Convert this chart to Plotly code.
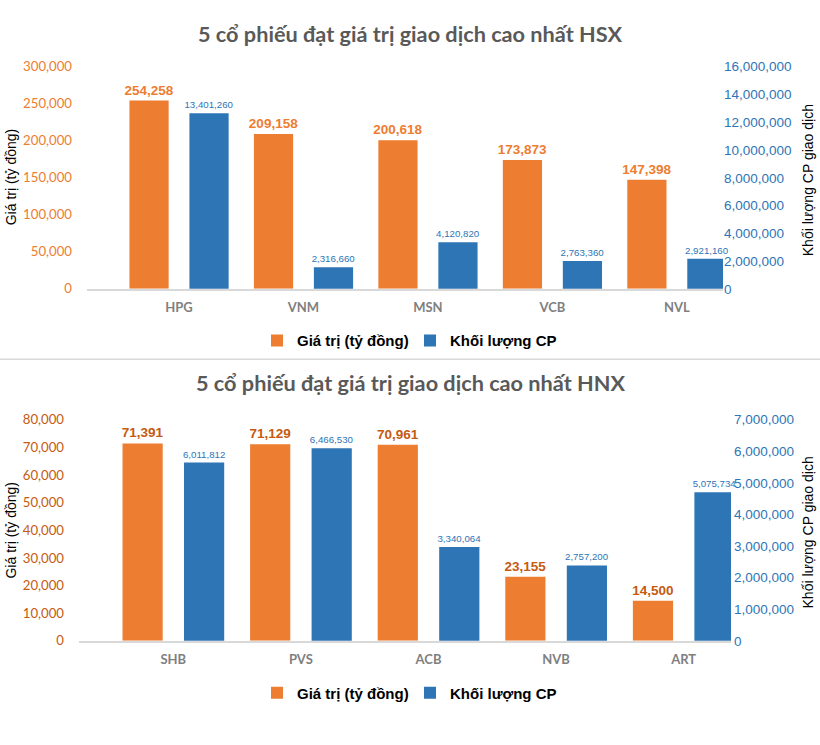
import plotly.graph_objects as go

# ---------------- data ----------------
categories_hsx = ["HPG", "VNM", "MSN", "VCB", "NVL"]
value_hsx = [254258, 209158, 200618, 173873, 147398]          # Giá trị (tỷ đồng)
volume_hsx = [13401260, 2316660, 4120820, 2763360, 2921160]   # Khối lượng CP

categories_hnx = ["SHB", "PVS", "ACB", "NVB", "ART"]
value_hnx = [71391, 71129, 70961, 23155, 14500]
volume_hnx = [6011812, 6466530, 3340064, 2757200, 5075734]

left_ticks_hsx = [0, 50000, 100000, 150000, 200000, 250000, 300000]
right_ticks_hsx = [0, 2000000, 4000000, 6000000, 8000000, 10000000, 12000000, 14000000, 16000000]
left_ticks_hnx = [0, 10000, 20000, 30000, 40000, 50000, 60000, 70000, 80000]
right_ticks_hnx = [0, 1000000, 2000000, 3000000, 4000000, 5000000, 6000000, 7000000]

title_hsx = "5 cổ phiếu đạt giá trị giao dịch cao nhất HSX"
title_hnx = "5 cổ phiếu đạt giá trị giao dịch cao nhất HNX"
name_value = "Giá trị (tỷ đồng)"
name_volume = "Khối lượng CP"
ytitle_left = "Giá trị (tỷ đồng)"
ytitle_right = "Khối lượng CP giao dịch"

# the reference's secondary axis baseline is not at zero (calibration of the picture)
base_hsx = 760000
base_hnx = 370000

# ---------------- style ----------------
W, H = 820, 745
ORANGE = "#ED7D31"
ORANGE_DARK = "#C55A11"
BLUE = "#2E75B6"
LABEL_FONT = "Liberation Sans"
BAR_W = 0.315
OFF_A = -0.398
OFF_B = 0.084

fig = go.Figure()

def add_pair(cats, vals, vols, xa, ya, yb, lab_col, legend):
    fig.add_trace(go.Bar(
        x=cats, y=vals, name=name_value, xaxis=xa, yaxis=ya,
        marker=dict(color=ORANGE, line=dict(width=0)),
        width=BAR_W, offset=OFF_A,
        texttemplate="%{y:,}", textposition="outside", cliponaxis=False,
        constraintext="none",
        textfont=dict(family=LABEL_FONT, size=13.5, color=lab_col, weight="bold"),
        legend=legend, showlegend=True, hoverinfo="x+y"))
    fig.add_trace(go.Bar(
        x=cats, y=vols, name=name_volume, xaxis=xa, yaxis=yb,
        marker=dict(color=BLUE, line=dict(width=0)),
        width=BAR_W, offset=OFF_B,
        texttemplate="%{y:,}", textposition="outside", cliponaxis=False,
        constraintext="none",
        textfont=dict(family=LABEL_FONT, size=9.7, color=BLUE),
        legend=legend, showlegend=True, hoverinfo="x+y"))

add_pair(categories_hsx, value_hsx, volume_hsx, "x", "y", "y2", ORANGE, "legend")
add_pair(categories_hnx, value_hnx, volume_hnx, "x2", "y3", "y4", ORANGE_DARK, "legend2")

def px(v):
    return v / W

def py(v):
    return 1 - v / H

cat_font = dict(family="Lato", size=13, color="#7F7F7F", weight="bold")
xcommon = dict(type="category", showline=True, linecolor="#D9D9D9", linewidth=1.5,
               ticks="", showgrid=False, zeroline=False, tickfont=cat_font,
               ticklabelstandoff=6, range=[-0.739, 4.371], fixedrange=True)

left_font_hsx = dict(family="Lato", size=13.2, color=ORANGE)
left_font_hnx = dict(family="Lato", size=13.2, color=ORANGE_DARK)
right_font = dict(family="Liberation Sans", size=13.5, color=BLUE)
legend_font = dict(family="Liberation Sans", size=15, color="#000000", weight="bold")

fig.update_layout(
    width=W, height=H,
    margin=dict(l=0, r=0, t=0, b=0),
    paper_bgcolor="white", plot_bgcolor="white",
    barmode="overlay",
    xaxis=dict(domain=[px(87), px(723)], anchor="y", **xcommon),
    yaxis=dict(domain=[py(287), py(60)], range=[0, 300000], tickvals=left_ticks_hsx,
               tickformat=",", showgrid=False, zeroline=False, showline=False,
               tickfont=left_font_hsx, ticklabelstandoff=14, fixedrange=True),
    yaxis2=dict(overlaying="y", side="right", anchor="x",
                range=[base_hsx, base_hsx + 16000000],
                tickvals=[base_hsx + t for t in right_ticks_hsx],
                ticktext=[f"{t:,}" for t in right_ticks_hsx],
                showgrid=False, zeroline=False, showline=False,
                tickfont=right_font, ticklabelstandoff=0, fixedrange=True),
    xaxis2=dict(domain=[px(79), px(731)], anchor="y3", **xcommon),
    yaxis3=dict(domain=[py(646.7), py(420.7)], anchor="x2", range=[0, 80000], tickvals=left_ticks_hnx,
                tickformat=",", showgrid=False, zeroline=False, showline=False,
                tickfont=left_font_hnx, ticklabelstandoff=14, fixedrange=True),
    yaxis4=dict(overlaying="y3", side="right", anchor="x2",
                range=[base_hnx, base_hnx + 7000000],
                tickvals=[base_hnx + t for t in right_ticks_hnx],
                ticktext=[f"{t:,}" for t in right_ticks_hnx],
                showgrid=False, zeroline=False, showline=False,
                tickfont=right_font, ticklabelstandoff=2, fixedrange=True),
    legend=dict(orientation="h", x=0.5, xanchor="center", y=py(340), yanchor="middle",
                font=legend_font, bgcolor="rgba(0,0,0,0)", entrywidth=108,
                itemclick=False, itemdoubleclick=False),
    legend2=dict(orientation="h", x=0.5, xanchor="center", y=py(700), yanchor="middle",
                 font=legend_font, bgcolor="rgba(0,0,0,0)", entrywidth=108,
                 itemclick=False, itemdoubleclick=False),
    showlegend=True,
)

title_font = dict(family="Lato", size=21.7, color="#595959", weight="bold")
axt_font = dict(family="Liberation Sans", size=14, color="#000000")
ann = [
    dict(text=title_hsx, x=0.5, y=py(27), font=title_font),
    dict(text=title_hnx, x=0.5, y=py(383), font=title_font),
    dict(text=ytitle_left, x=px(11), y=py(173), textangle=-90, font=axt_font),
    dict(text=ytitle_right, x=px(808), y=py(176), textangle=-90, font=axt_font),
    dict(text=ytitle_left, x=px(11), y=py(534), textangle=-90, font=axt_font),
    dict(text=ytitle_right, x=px(808), y=py(536), textangle=-90, font=axt_font),
]
for a in ann:
    fig.add_annotation(xref="paper", yref="paper", xanchor="center", yanchor="middle",
                       showarrow=False, **a)

# separator between the two charts
fig.add_shape(type="line", xref="paper", yref="paper", x0=0, x1=1, y0=py(359), y1=py(359),
              line=dict(color="#D9D9D9", width=1.5))

fig.write_html("out.html", config={"displayModeBar": False},
               post_script="document.body.style.margin='0';document.body.style.overflow='hidden';")
